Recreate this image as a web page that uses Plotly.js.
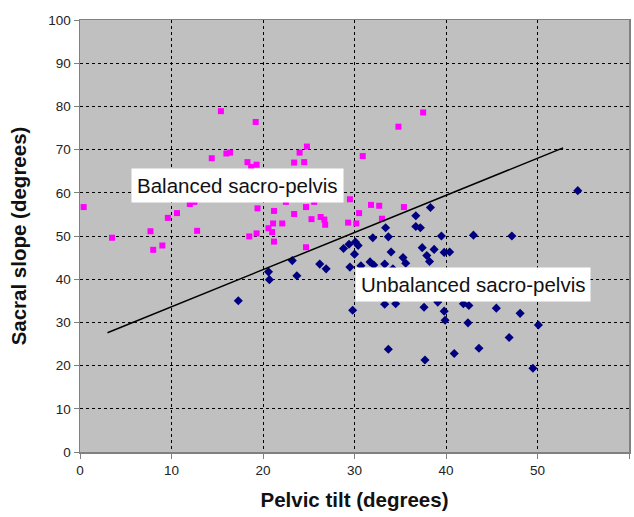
<!DOCTYPE html>
<html>
<head>
<meta charset="utf-8">
<script src="https://cdn.plot.ly/plotly-3.0.1.min.js"></script>
<style>html,body{margin:0;padding:0;background:#fff;}#chart{width:634px;height:517px;}</style>
</head>
<body>
<div id="chart"></div>
<script>
// Balanced sacro-pelvis (pink squares)
const balancedX = [0.4,3.5,7.7,8.0,9.0,9.6,10.6,12.0,12.5,12.8,14.4,15.4,16.0,16.4,18.3,18.5,18.7,19.2,19.3,19.3,19.4,20.6,21.0,21.1,21.2,21.2,22.1,22.5,23.4,23.4,24.0,24.5,24.7,24.7,24.8,25.3,25.6,26.3,26.7,26.8,29.3,29.5,30.2,30.5,30.9,31.8,32.7,33.0,34.8,35.4,37.5];
const balancedY = [56.7,49.6,51.1,46.8,47.8,54.2,55.3,57.4,57.9,51.2,68.0,78.9,69.1,69.3,67.1,49.9,66.0,76.4,66.5,50.6,56.4,51.8,50.9,52.9,55.8,48.7,52.9,57.9,67.0,55.1,69.3,67.1,56.7,47.4,70.7,53.9,57.9,54.4,53.8,52.6,53.1,58.5,52.9,55.3,68.5,57.2,57.0,54.0,75.3,56.7,78.6];

// Unbalanced sacro-pelvis (navy diamonds)
const unbalancedX = [17.3,20.6,20.7,23.2,23.7,26.2,26.9,28.8,29.4,30.1,30.4,30.0,29.5,30.7,29.8,32.0,33.7,33.4,34.0,31.7,32.1,33.3,34.2,33.3,34.5,33.7,36.7,38.3,36.7,37.2,39.5,43.0,47.2,37.4,38.7,37.9,38.2,39.8,40.4,35.3,35.6,37.6,39.1,39.8,39.9,41.9,42.5,45.5,48.1,42.4,50.1,46.9,43.6,40.9,37.7,49.5,54.4];
const unbalancedY = [35.0,41.7,39.9,44.3,40.8,43.5,42.4,47.1,48.1,48.6,47.8,45.8,42.8,43.1,32.8,49.6,49.8,51.9,46.3,44.0,43.3,43.5,42.4,34.2,34.3,23.8,54.7,56.6,52.2,51.9,50.0,50.2,50.0,47.3,46.9,45.5,44.1,46.2,46.3,45.0,43.7,33.5,34.7,32.6,30.5,34.3,33.9,33.3,32.1,29.9,29.4,26.5,24.0,22.8,21.3,19.4,60.5];

// Separation line
const lineX = [3.0, 52.8];
const lineY = [27.6, 70.4];

// Axis ticks
const xTicks = [0,10,20,30,40,50,60];
const yTicks = [0,10,20,30,40,50,60,70,80,90,100];

const traces = [
  {x: balancedX, y: balancedY, type: 'scatter', mode: 'markers', name: 'Balanced',
   marker: {symbol: 'square', size: 6, color: '#ff00ff'}},
  {x: unbalancedX, y: unbalancedY, type: 'scatter', mode: 'markers', name: 'Unbalanced',
   marker: {symbol: 'diamond', size: 7, color: '#000080'}},
  {x: lineX, y: lineY, type: 'scatter', mode: 'lines', name: 'Line',
   line: {color: '#000000', width: 1.5}}
];

const titleFont = {size: 20.5, color: '#111', family: 'Arial, Liberation Sans, sans-serif', weight: 'bold'};

const layout = {
  width: 634, height: 517,
  margin: {l: 80, r: 5, t: 20, b: 65},
  paper_bgcolor: '#ffffff',
  plot_bgcolor: '#c0c0c0',
  showlegend: false,
  font: {family: 'Arial, Liberation Sans, sans-serif', color: '#222'},
  xaxis: {
    range: [0, 60], tickvals: xTicks, ticktext: xTicks.map(String),
    showgrid: true, gridcolor: '#000000', griddash: 'dot', gridwidth: 1,
    zeroline: false, showline: true, linecolor: '#808080', linewidth: 1.5, mirror: true,
    ticks: 'outside', ticklen: 5, tickcolor: '#808080',
    tickfont: {size: 13.5, color: '#222'},
    title: {text: 'Pelvic tilt (degrees)', font: titleFont, standoff: 16}
  },
  yaxis: {
    range: [0, 100], tickvals: yTicks, ticktext: yTicks.map(String),
    showgrid: true, gridcolor: '#000000', griddash: 'dot', gridwidth: 1,
    zeroline: false, showline: true, linecolor: '#808080', linewidth: 1.5, mirror: true,
    ticks: 'outside', ticklen: 5, tickcolor: '#808080',
    tickfont: {size: 13.5, color: '#222'},
    title: {text: 'Sacral slope (degrees)', font: titleFont, standoff: 16}
  },
  annotations: [
    {x: 17.2, y: 61.6, xref: 'x', yref: 'y', text: 'Balanced sacro-pelvis', showarrow: false,
     font: {size: 20.5, color: '#111'}, bgcolor: '#ffffff', borderpad: 5},
    {x: 42.9, y: 38.7, xref: 'x', yref: 'y', text: 'Unbalanced sacro-pelvis', showarrow: false,
     font: {size: 20.5, color: '#111'}, bgcolor: '#ffffff', borderpad: 5}
  ]
};

Plotly.newPlot('chart', traces, layout, {displayModeBar: false, staticPlot: true});
</script>
</body>
</html>
